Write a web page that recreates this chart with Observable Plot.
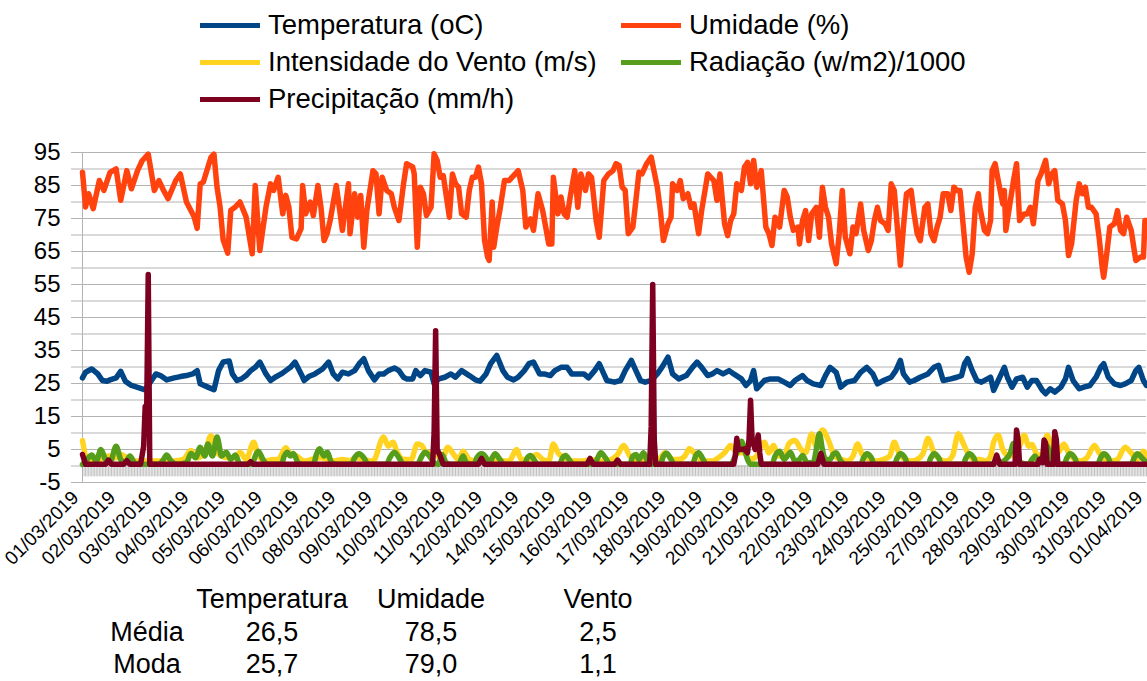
<!DOCTYPE html>
<html>
<head>
<meta charset="utf-8">
<script src="https://cdn.jsdelivr.net/npm/d3@7"></script>
<script src="https://cdn.jsdelivr.net/npm/@observablehq/plot@0.6"></script>
<style>
  body { margin: 0; background: #fff; font-family: "Liberation Sans", Arial, sans-serif; }
  #wrap { position: relative; width: 1147px; height: 681px; overflow: hidden; }
  #chart { position: absolute; left: 0; top: 0; }
  .leg { position: absolute; height: 30px; display: flex; align-items: center; font-size: 27.5px; line-height: 1; color: #000; white-space: nowrap; }
  .sw { width: 60px; height: 5px; margin-right: 8px; }
  .tb { position: absolute; font-size: 27px; line-height: 1; color: #000; white-space: nowrap; transform: translateX(-50%); }
</style>
</head>
<body>
<div id="wrap">
  <div id="chart"></div>
  <div id="legend"></div>
  <div id="table"></div>
</div>
<script>
// ---- data (hour index from 01/03/2019 00h, value) ----
const xLabels = ["01/03/2019","02/03/2019","03/03/2019","04/03/2019","05/03/2019","06/03/2019","07/03/2019","08/03/2019","09/03/2019","10/03/2019","11/03/2019","12/03/2019","14/03/2019","15/03/2019","16/03/2019","17/03/2019","18/03/2019","19/03/2019","20/03/2019","21/03/2019","22/03/2019","23/03/2019","24/03/2019","25/03/2019","27/03/2019","28/03/2019","29/03/2019","30/03/2019","31/03/2019","01/04/2019"];
const yTicks = [-5, 5, 15, 25, 35, 45, 55, 65, 75, 85, 95];

const seriesNames = ["Temperatura (oC)", "Umidade (%)", "Intensidade do Vento (m/s)", "Radiação (w/m2)/1000", "Precipitação (mm/h)"];
const seriesColors = ["#004586", "#ff420e", "#ffd320", "#579d1c", "#7e0021"];

const temperatura = [[0,26.7],[2,28.4],[6,29.4],[10,27.9],[13,25.9],[16,25.7],[18,26.1],[22,26.7],[25,28.7],[28,25.7],[32,24.4],[37,23.7],[41,23.1],[48,27.9],[51,27.4],[55,26.1],[60,26.7],[64,27.1],[68,27.4],[72,27.9],[75,28.9],[77,24.9],[82,23.9],[86,23.1],[89,28.9],[92,31.5],[96,31.8],[98,27.9],[101,25.9],[104,26.4],
[107,27.4],[110,28.9],[113,29.9],[116,31.5],[120,27.9],[123,25.9],[126,26.9],[130,27.9],[133,28.9],[136,29.9],[139,31.5],[143,27.9],[145,25.9],[148,27.1],[152,27.9],[157,29.4],[161,31.5],[164,27.9],[167,26.4],[170,28.4],[174,27.9],[178,28.9],[181,31],[184,32.5],[187,28.9],[191,26.1],[194,27.9],[197,27.9],[200,28.9],[204,29.7],[207,28.9],[210,26.9],[212,26.4],[216,26.4],[218,28.9],
[221,27.4],[224,28.9],[228,28.4],[230,24.9],[233,26.4],[237,26.9],[241,27.9],[244,26.9],[248,28.9],[253,27.4],[257,26.1],[260,25.7],[264,27.9],[267,31],[271,33.5],[275,28.9],[278,26.9],[282,26.1],[285,26.9],[289,28.9],[292,31],[295,31.5],[299,27.9],[302,27.9],[306,27.4],[309,28.9],[313,29.9],[317,29.9],[320,27.9],[324,27.9],[328,27.9],[331,26.7],[335,28.9],[338,31],
[341,27.9],[343,25.9],[348,25.4],[352,25.9],[355,28.9],[359,32],[362,28.9],[365,25.9],[368,25.4],[372,25.9],[376,27.9],[379,29.9],[383,33],[386,27.9],[390,26.4],[395,27.4],[399,29.9],[402,31.5],[405,29.9],[409,27.4],[412,27.9],[415,28.9],[419,27.9],[423,28.9],[426,27.9],[431,26.4],[434,24.4],[437,25.9],[439,28.9],[441,23.4],[446,25.9],[450,26.4],[455,26.4],[459,25.4],
[463,24.4],[466,25.9],[471,27.4],[474,25.9],[478,24.9],[483,24.4],[486,27.4],[489,29.9],[493,28.4],[496,23.9],[500,25.4],[505,25.9],[509,28.4],[513,29.9],[517,27.9],[520,24.9],[524,25.9],[529,26.9],[532,28.9],[535,32],[537,27.9],[541,25.4],[544,25.9],[548,26.9],[553,27.9],[557,29.9],[560,30.5],[563,25.9],[568,26.4],[572,26.9],[575,27.4],
[577,31],[579,32.5],[582,28.9],[585,25.9],[588,25.4],[592,26.4],[594,26.9],[596,22.9],[599,25.9],[603,29.9],[605,26.9],[608,23.9],[611,26.4],[615,26.9],[618,23.9],[621,25.9],[624,25.9],[628,22.9],[630,21.9],[633,23.4],[636,22.4],[640,23.9],[643,26.4],[645,29.9],[648,25.9],[652,23.4],[655,23.9],[659,24.4],[663,26.9],[666,29.9],[668,31],[671,26.9],[675,24.9],[679,24.4],[682,24.9],[686,25.9],[689,28.9],[691,29.9],[694,25.9],[696,24.4]];

const umidade = [[0,89],[2,78.5],[4,82.5],[7,78],[11,86.5],[14,83.5],[18,89],[22,90],[25,80.5],[29,89.5],[32,84],[36,89.5],[39,92.5],[43,94.5],[47,83.5],[50,86.5],[53,83.5],[56,81],[61,86.5],[64,88.5],[68,80],[73,75.5],[75,72],[77,85.5],[79,86],[84,93.5],[86,94.5],[88,84.5],[90,78.5],[92,68.5],[95,64.5],[97,77.5],[100,78.5],[103,80],[107,75.5],
[111,64.3],[113,85],[116,65.3],[120,78.4],[123,85.5],[125,83.5],[128,87.5],[131,76.4],[133,82],[135,78.4],[137,69.3],[140,68.8],[143,71.9],[144,85],[146,76.4],[149,80],[151,75.9],[154,85],[156,78.4],[158,68.3],[160,70.4],[162,74.4],[166,85],[168,78.4],[170,71.4],[174,85.5],[175,70.4],[178,82.5],[180,75.4],[182,82],[184,66.3],[186,77.4],[190,89.5],[192,88.5],[194,76.4],[196,87.5],[199,83.5],[202,82.5],[204,78.4],[207,74.4],[210,85.5],[212,91.6],[216,90.6],[217,88.5],[219,66.3],[221,84.5],
[223,82.5],[225,75.9],[228,78.4],[230,94.6],[232,92.6],[234,87.5],[236,88],[240,75.4],[242,88.5],[244,85.5],[246,84.5],[248,76.4],[251,75.4],[253,83.5],[255,87.5],[257,87.5],[259,90.6],[261,85.5],[263,68.3],[265,63.3],[266,62.3],[268,80],[269,66.3],[271,72.4],[273,77.4],[276,86.5],[279,86.5],[282,88],[285,89.5],[288,83.5],[290,72.4],[293,74.9],[295,71.4],[298,82.5],[301,77.4],[303,72.4],[305,67.3],[307,67.3],[308,87.5],[311,76.4],[313,81.5],[315,76.4],[317,75.4],[319,81.5],[322,89.5],[324,78.4],[326,88.5],[329,83.5],[331,88.5],[333,87.5],[336,74.4],[338,69.3],
[341,86.5],[344,88.5],[347,89.5],[349,91.6],[351,91.1],[353,84.5],[355,83.5],[357,70.4],[360,72.4],[362,80.5],[364,89],[366,88.5],[369,91.6],[372,93.6],[374,89],[376,84.5],[378,77.4],[380,68.3],[383,73.4],[385,75.4],[386,85.5],[389,83.5],[391,86.5],[393,81],[396,82.5],[398,78.4],[400,79.4],[403,70.4],[405,77.4],[409,88.5],[411,87.5],[413,86.5],[415,80.5],[417,88.5],[420,73.4],[422,69.8],[424,74.4],[426,76.4],[428,85.5],[431,83.5],[433,90.6],[435,92],[437,85.5],[439,92.6],[441,84.5],[444,89.5],[447,72.4],[449,70.4],[451,66.8],[453,75.4],[456,72.4],
[459,83.5],[461,81.5],[463,75.4],[465,71.4],[468,72.4],[469,67.3],[471,74.4],[473,77.4],[475,68.3],[477,76.4],[480,78.4],[482,69.3],[484,84.5],[486,78.4],[488,75.4],[490,67.3],[493,61.3],[495,70.4],[497,83.5],[499,69.3],[502,64.3],[504,72.4],[506,70.4],[509,79.4],[511,71.4],[514,65.3],[516,68.3],[518,74.4],[520,78.4],[522,74.4],[525,73.4],[527,71.4],[529,85.5],[531,83.5],[533,72.4],[535,60.8],[537,72.4],[539,82.5],[542,83.5],[544,76.4],[546,70.4],[548,68.3],[551,78.4],[553,79.4],[555,70.4],[557,68.3],[559,72.4],[561,75.4],[563,82.5],[566,82.5],[568,77.4],[570,84.5],[572,83.5],
[574,83.5],[576,73.4],[578,63.3],[580,58.7],[582,64.3],[584,78.4],[586,82.5],[587,78.4],[590,71.4],[592,70.4],[594,74.4],[595,89.5],[597,91.6],[599,86.5],[602,79.4],[603,83.5],[604,71.4],[607,80.5],[609,86.5],[611,91.6],[613,74.4],[616,76.4],[618,76.4],[620,78.4],[622,73.4],[625,86.5],[627,88.5],[630,92.6],[632,85.5],[634,88.5],[636,89.5],[638,80.5],[641,79.4],[643,74.4],[645,63.8],[647,67.3],[650,80.5],[652,85.5],[654,82.5],[656,84.5],[658,78.4],[660,78.4],[663,76.4],[665,69.3],[667,60.3],[668,57.2],[670,64.3],[672,72.4],[675,73.4],[677,77.4],[679,71.4],[681,70.4],[683,75.4],[686,71.4],[688,65.3],[689,62.3],[692,63.3],[694,63.3],[695,74.4],[696,74.4]];

const vento = [[0,7.7],[3,2],[6,1.5],[12,2],[17,3],[22,2.5],[25,3.5],[29,2.5],[33,1.5],[40,1.5],[45,1.5],[50,1.5],[55,1.5],[60,1.5],[66,2],[71,4.7],[75,2.5],[80,4],[84,9.2],[87,5],[91,3],[95,2.5],[100,2.5],[103,4.2],[107,2],[112,7.2],[115,3],[120,1.5],[125,2],[128,2],[133,5.5],[136,3.5],[140,3],[145,1.5],[150,2],[156,2.5],[160,2],[165,1.5],[170,2],[175,1.5],[178,2.5],[184,2],[190,1.5],[197,8.8],[200,6],[203,7.2],[206,4],[210,2],[215,2],[219,6.7],[222,6.2],[225,4],[230,4],[235,2],[239,5.7],[242,4],[246,2],[249,4.5],[253,2],[258,1.5],[263,1.5],[268,1.5],[274,1.5],[279,1.5],[284,5],[287,2],[292,2],[297,3.5],[301,2],[305,1.5],[308,6.7],[311,4],[315,2.5],[320,1.5],[324,1.5],[328,1.5],[333,2],[337,1.5],[341,1.5],[346,2],[350,3.5],[354,6.2],[358,3],[362,1.5],[366,1.5],[370,1.5],[374,1.5],[378,2.5],[381,4],[386,2],[390,2],[394,3],[397,5.2],[400,4],[404,2],[408,1.5],[412,1.5],[416,2.5],[420,4],[424,6.2],[428,4],[433,4],[437,2],[441,3],[446,7.2],[449,4],[452,6.2],[455,3],[459,3],[462,6.7],[466,7.7],[470,5],[473,4],[477,9.7],[480,6],[484,10.9],[488,7.7],[492,3],[496,2],[500,1.5],[504,3],[507,6.7],[510,3.5],[515,2],[520,1.5],[524,2],[528,3],[531,7.2],[534,4],[538,2],[542,1.5],[546,2],[550,4],[553,8.3],[557,4],[561,2],[565,1.5],[569,3],[573,9.8],[576,7],[579,4],[583,2],[587,2],[591,1.5],[594,3],[596,7.2],[599,9.3],[602,5],[606,3],[610,4],[613,6],[616,9.3],[619,6],[621,6.5],[625,3],[628,4],[631,9.3],[634,6],[638,4],[642,6.7],[645,4],[649,2],[653,1.5],[657,2.5],[662,6.2],[665,4],[669,2],[673,1.5],[677,2],[682,5.7],[686,4],[690,2],[694,4.5],[696,3]];

const radiacao = [[0,0.5],[3,2],[6,3.3],[9,1.5],[12,5],[15,2],[18,1],[22,6],[25,2],[28,1],[31,3],[34,1],[37,0.5],[50,0.5],[53,2],[55,3.3],[58,1.5],[62,0.5],[68,1],[71,3.8],[74,2.5],[77,5.7],[80,3],[82,6.7],[85,3],[88,8.8],[91,3],[94,4.2],[97,2],[100,3.3],[103,0.5],[111,0.5],[113,3],[115,4.5],[118,2],[121,0.5],[130,0.5],[132,3],[134,4.2],[136,3],[138,3.8],[141,1],[144,0.5],[151,0.5],[153,3.5],[155,5.2],[158,3],[160,4.2],[163,1],[166,0.5],[176,0.5],[178,2.5],[181,3.7],[184,2.5],[187,0.5],[199,0.5],[201,2.5],[204,4.2],[207,2.5],[210,0.5],[219,0.5],[222,3],[224,4.2],[227,3],[230,1],[233,0.5],[235,3.5],[238,1],[241,0.5],[246,0.5],[249,3],[251,1],[256,0.5],[258,2.5],[261,3.7],[264,2.5],[266,0.5],[268,2.5],[270,3.7],[273,2],[276,0.5],[289,0.5],[291,2.5],[293,3.2],[296,1.5],[298,0.5],[312,0.5],[314,2.5],[316,3.2],[319,1.5],[321,0.5],[335,0.5],[337,2.5],[339,4],[342,2.5],[345,0.5],[358,0.5],[360,3],[362,3.5],[364,2],[367,4],[370,1],[372,0.5],[378,0.5],[380,3],[382,3.9],[385,2],[387,0.5],[399,0.5],[401,3],[403,4],[406,2],[408,0.5],[424,0.5],[427,3],[429,5],[431,7.5],[433,5],[435,2],[437,0.5],[451,0.5],[453,3],[456,4.5],[459,2],[461,3],[463,4.2],[466,1.5],[469,2],[471,3.2],[474,1],[478,1],[480,5],[482,9.8],[484,5],[486,2],[489,2],[491,3.5],[493,4],[496,1.5],[499,0.5],[509,0.5],[511,2.5],[513,3.7],[516,2.5],[518,0.5],[531,0.5],[533,2.5],[535,3.7],[538,2.5],[540,0.5],[553,0.5],[555,2.5],[557,3.7],[560,2.5],[562,0.5],[576,0.5],[578,2.5],[580,3.7],[583,2.5],[585,0.5],[596,0.5],[598,2],[600,1],[604,2],[607,4],[609,6.8],[611,4],[613,1],[619,0.5],[621,2],[623,3],[625,1.5],[628,3],[631,6],[633,3],[635,0.5],[642,0.5],[644,2.5],[646,3.7],[649,2.5],[651,0.5],[664,0.5],[666,2.5],[668,3.7],[671,2.5],[673,0.5],[686,0.5],[688,2.5],[690,3.7],[693,2.5],[696,1]];

const precipitacao = [[0,3.5],[2,0.5],[15,0.5],[17,1.8],[19,0.5],[27,0.5],[29,1.6],[31,0.5],[38,0.5],[40,6],[41,18],[42,17],[43,58],[44,0.5],[108,0.5],[110,1.3],[112,0.5],[229,0.5],[230,10],[231,41],[232,5],[234,3],[236,0.5],[259,0.5],[261,2.3],[263,0.5],[330,0.5],[332,2.3],[334,0.5],[348,0.5],[350,1.8],[352,0.5],[371,0.5],[372,12],[373,55],[374,8],[375,0.5],[426,0.5],[427,3],[428,8.4],[429,5],[431,5],[433,5.2],[435,4],[436,8],[437,19.9],[438,8],[440,5],[442,9.4],[443,4],[444,0.5],[481,0.5],[483,3.8],[485,0.5],[596,0.5],[598,3.3],[600,0.5],[610,0.5],[611,10.9],[612,8],[613,0.5],[625,0.5],[626,2],[628,1],[629,7.9],[630,7],[631,0.5],[635,0.5],[636,10.4],[637,8],[638,0.5],[696,0.5]];

const statCols = ["Temperatura", "Umidade", "Vento"];
const statRows = ["Média", "Moda"];
const media = ["26,5", "78,5", "2,5"];
const moda = ["25,7", "79,0", "1,1"];

// ---- chart ----
const nHours = (xLabels.length - 1) * 24;
const labelHours = xLabels.map((_, i) => i * 24);
const gridVals = d3.range(-5, 96, 5);
const hourTicks = d3.range(0, nHours + 1);
const series = [temperatura, umidade, vento, radiacao, precipitacao];
const curves = ["linear", "linear", "monotone-x", "monotone-x", "linear"];

const chart = Plot.plot({
  width: 1147,
  height: 681,
  marginTop: 152,
  marginBottom: 199,
  marginLeft: 82,
  marginRight: 1,
  style: { fontFamily: "'Liberation Sans', Arial, sans-serif", background: "transparent", color: "#000" },
  x: { domain: [0, nHours], axis: null },
  y: { domain: [-5, 95], axis: null },
  marks: [
    Plot.gridY(gridVals, { stroke: "#b3b3b3", strokeOpacity: 1 }),
    Plot.axisY(gridVals, { tickSize: 11, stroke: "#b3b3b3", tickFormat: () => "" }),
    Plot.axisY(yTicks, { tickSize: 0, tickPadding: 22, fontSize: 24, fill: "#000", tickFormat: d => String(d) }),
    Plot.ruleX([0], { stroke: "#b3b3b3" }),
    Plot.ruleY([-5], { stroke: "#b3b3b3" }),
    Plot.ruleX(hourTicks, { y1: 0, y2: -3.3, stroke: "#b3b3b3", strokeWidth: 0.8 }),
    Plot.axisX(labelHours, { tickSize: 0, tickRotate: -45, tickPadding: 10, dx: -7, dy: 2, fontSize: 19, fill: "#000",
      tickFormat: d => xLabels[Math.round(d / 24)] }),
    ...series.map((s, k) => Plot.line(s, {
      x: d => d[0], y: d => d[1], stroke: seriesColors[k], strokeWidth: 5.5,
      strokeLinejoin: "round", strokeLinecap: "round", curve: curves[k]
    }))
  ]
});
document.getElementById("chart").appendChild(chart);

// ---- legend ----
const legend = document.getElementById("legend");
const legPos = [[200, 25], [621, 25], [200, 62], [621, 62], [200, 99]];
seriesNames.forEach((name, k) => {
  const el = document.createElement("div");
  el.className = "leg";
  el.style.left = legPos[k][0] + "px";
  el.style.top = (legPos[k][1] - 15) + "px";
  el.innerHTML = `<div class="sw" style="background:${seriesColors[k]}"></div><span></span>`;
  el.querySelector("span").textContent = name;
  legend.appendChild(el);
});

// ---- stats table ----
const table = document.getElementById("table");
const colX = [272, 431, 598];
const rowLabelX = 147;
function put(text, x, baseline) {
  const el = document.createElement("div");
  el.className = "tb";
  el.style.left = x + "px";
  el.style.top = (baseline - 23) + "px";
  el.textContent = text;
  table.appendChild(el);
}
statCols.forEach((c, i) => put(c, colX[i], 609));
put(statRows[0], rowLabelX, 642);
put(statRows[1], rowLabelX, 674);
media.forEach((v, i) => put(v, colX[i], 642));
moda.forEach((v, i) => put(v, colX[i], 674));
</script>
</body>
</html>
